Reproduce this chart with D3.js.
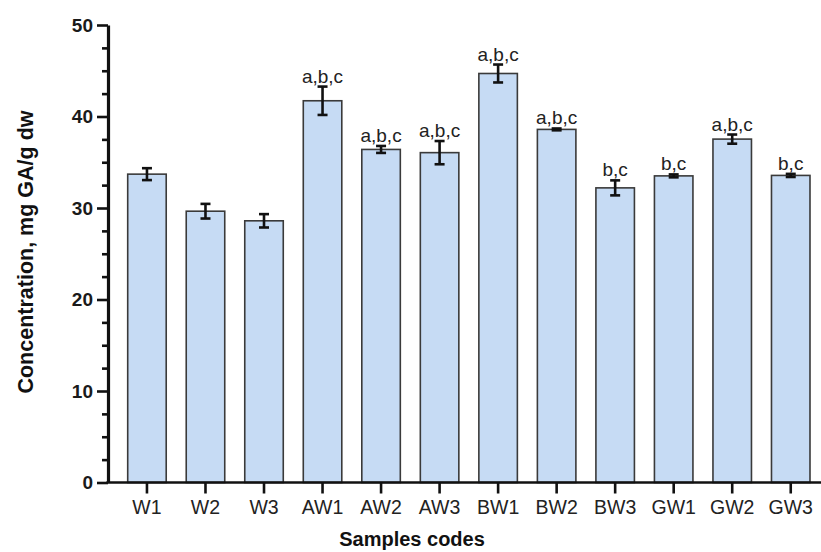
<!DOCTYPE html>
<html>
<head>
<meta charset="utf-8">
<script src="https://cdn.jsdelivr.net/npm/d3@7"></script>
<style>
  html, body { margin: 0; padding: 0; background: #fff; }
  svg { display: block; font-family: "Liberation Sans", Arial, Helvetica, sans-serif; }
</style>
</head>
<body>
<svg id="chart" width="821" height="552"></svg>
<script>
// Total phenolic content per sample (mean ± SD)
const samples = ["W1", "W2", "W3", "AW1", "AW2", "AW3", "BW1", "BW2", "BW3", "GW1", "GW2", "GW3"];
const means   = [33.7, 29.65, 28.6, 41.72, 36.4, 36.05, 44.7, 38.59, 32.2, 33.51, 37.53, 33.56];
const errors  = [0.65, 0.8, 0.73, 1.55, 0.38, 1.27, 0.98, 0.1, 0.82, 0.16, 0.5, 0.17];
const letters = ["", "", "", "a,b,c", "a,b,c", "a,b,c", "a,b,c", "a,b,c", "b,c", "b,c", "a,b,c", "b,c"];
const yTicks  = [0, 10, 20, 30, 40, 50];

const svg = d3.select("#chart");

const x = d3.scaleBand()
  .domain(samples)
  .range([117.7, 820])
  .paddingInner(0.342)
  .paddingOuter(0.171);

const y = d3.scaleLinear()
  .domain([0, 50])
  .range([482.5, 25]);

const barFill = "#c6dbf4";
const barStroke = "#3a3a3a";

// Bars
svg.append("g")
  .selectAll("rect")
  .data(samples)
  .join("rect")
  .attr("x", d => x(d))
  .attr("y", (d, i) => y(means[i]))
  .attr("width", x.bandwidth())
  .attr("height", (d, i) => y(0) - y(means[i]))
  .attr("fill", barFill)
  .attr("stroke", barStroke)
  .attr("stroke-width", 1.6);

// Error bars
const capHalf = 5;
const eb = svg.append("g")
  .attr("stroke", "#111")
  .attr("stroke-width", 2.6);

samples.forEach((s, i) => {
  const cx = x(s) + x.bandwidth() / 2;
  const yTop = y(means[i] + errors[i]);
  const yBot = y(means[i] - errors[i]);
  eb.append("line").attr("x1", cx).attr("x2", cx).attr("y1", yTop).attr("y2", yBot);
  eb.append("line").attr("x1", cx - capHalf).attr("x2", cx + capHalf).attr("y1", yTop).attr("y2", yTop);
  eb.append("line").attr("x1", cx - capHalf).attr("x2", cx + capHalf).attr("y1", yBot).attr("y2", yBot);
});

// Significance letters above each bar
svg.append("g")
  .selectAll("text")
  .data(samples)
  .join("text")
  .attr("x", d => x(d) + x.bandwidth() / 2)
  .attr("y", (d, i) => y(means[i] + errors[i]) - 4)
  .attr("text-anchor", "middle")
  .attr("font-size", 19)
  .attr("fill", "#222")
  .text((d, i) => letters[i]);

// Y axis: major ticks every 10, minor ticks every 2.5
const yAxisG = svg.append("g").attr("transform", "translate(108,0)");
const minorVals = d3.range(0, 50.01, 2.5).filter(v => v % 10 !== 0);
yAxisG.append("g")
  .call(d3.axisLeft(y).tickValues(minorVals).tickSize(6).tickFormat(""))
  .call(g => g.select(".domain").remove())
  .call(g => g.selectAll("line").attr("stroke", "#111").attr("stroke-width", 2.6));
yAxisG.append("g")
  .call(d3.axisLeft(y).tickValues(yTicks).tickSize(11).tickPadding(4).tickSizeOuter(0))
  .call(g => g.select(".domain").attr("stroke", "#111").attr("stroke-width", 3.2))
  .call(g => g.selectAll("line").attr("stroke", "#111").attr("stroke-width", 2.6))
  .call(g => g.selectAll("text")
    .attr("font-size", 19).attr("font-weight", "bold").attr("fill", "#1a1a1a")
    .attr("font-family", "Liberation Sans, Arial, sans-serif"));

// X axis
const xAxisG = svg.append("g").attr("transform", `translate(0,${y(0)})`);
xAxisG.append("line")
  .attr("x1", 106.4).attr("x2", 821)
  .attr("stroke", "#111").attr("stroke-width", 3.2);
xAxisG.call(d3.axisBottom(x).tickSize(11).tickPadding(7).tickSizeOuter(0))
  .call(g => g.select(".domain").remove())
  .call(g => g.selectAll("line").attr("stroke", "#111").attr("stroke-width", 2.6))
  .call(g => g.selectAll("text")
    .attr("font-size", 19.5).attr("fill", "#222")
    .attr("font-family", "Liberation Sans, Arial, sans-serif"));

// Axis titles
svg.append("text")
  .attr("transform", "translate(33,252) rotate(-90)")
  .attr("text-anchor", "middle")
  .attr("font-size", 21.5)
  .attr("font-weight", "bold")
  .attr("fill", "#111")
  .text("Concentration, mg GA/g dw");

svg.append("text")
  .attr("x", 412)
  .attr("y", 546)
  .attr("text-anchor", "middle")
  .attr("font-size", 20)
  .attr("font-weight", "bold")
  .attr("fill", "#111")
  .text("Samples codes");
</script>
</body>
</html>
